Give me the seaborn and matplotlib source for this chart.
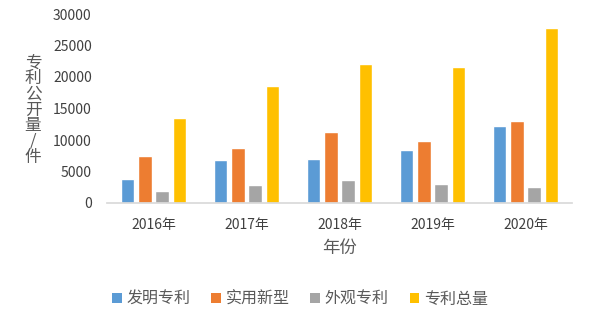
import matplotlib
matplotlib.use("Agg")
import matplotlib.pyplot as plt
import seaborn as sns
import pandas as pd

years = ["2016年", "2017年", "2018年", "2019年", "2020年"]
series = ["发明专利", "实用新型", "外观专利", "专利总量"]
invention = [3800, 6800, 6950, 8400, 12200]
utility = [7500, 8750, 11250, 9800, 13000]
design = [1900, 2850, 3600, 3000, 2500]
total = [13500, 18500, 22050, 21600, 27750]
colors = ["#5B9BD5", "#ED7D31", "#A5A5A5", "#FFC000"]

rows = []
for name, vals in zip(series, [invention, utility, design, total]):
    for y, v in zip(years, vals):
        rows.append({"年份": y, "类型": name, "数量": v})
df = pd.DataFrame(rows)

sns.set_theme(style="white")
plt.rcParams['font.family'] = ['Noto Sans CJK SC', 'DejaVu Sans']

fig = plt.figure(figsize=(5.89, 3.23), dpi=100)
ax = fig.add_axes([107/589, 1-203/323, (572-107)/589, (203-14)/323])
sns.barplot(data=df, x="年份", y="数量", hue="类型", palette=colors,
            width=0.74, gap=0.22, ax=ax, legend=False, saturation=1)
ax.set_ylim(0, 30000)
ax.set_yticks(range(0, 30001, 5000))
ax.set_xlim(-0.5, 4.5)
for s in ["top", "right", "left"]:
    ax.spines[s].set_visible(False)
ax.spines["bottom"].set_color("#D9D9D9")
ax.tick_params(axis="both", length=0, colors="#404040", labelsize=10)
ax.tick_params(axis="y", pad=11)
ax.tick_params(axis="x", pad=11)
ax.set_xlabel("年份", fontsize=12.5, color="#595959", labelpad=5)
ax.set_ylabel("")
fig.text(33/589, 1-110/323, "\n".join("专利公开量/件"), ha="center", va="center",
         fontsize=12, color="#595959", linespacing=0.9)

from matplotlib.patches import Patch
handles = [Patch(facecolor=c, edgecolor="none") for c in colors]
fig.legend(handles, series, loc="center", bbox_to_anchor=(300/589, 1-299/323),
           ncol=4, frameon=False, fontsize=11.5, handlelength=0.6, handleheight=0.6,
           handletextpad=0.3, columnspacing=1.3, labelcolor="#595959")

fig.savefig("out.png", dpi=100)
